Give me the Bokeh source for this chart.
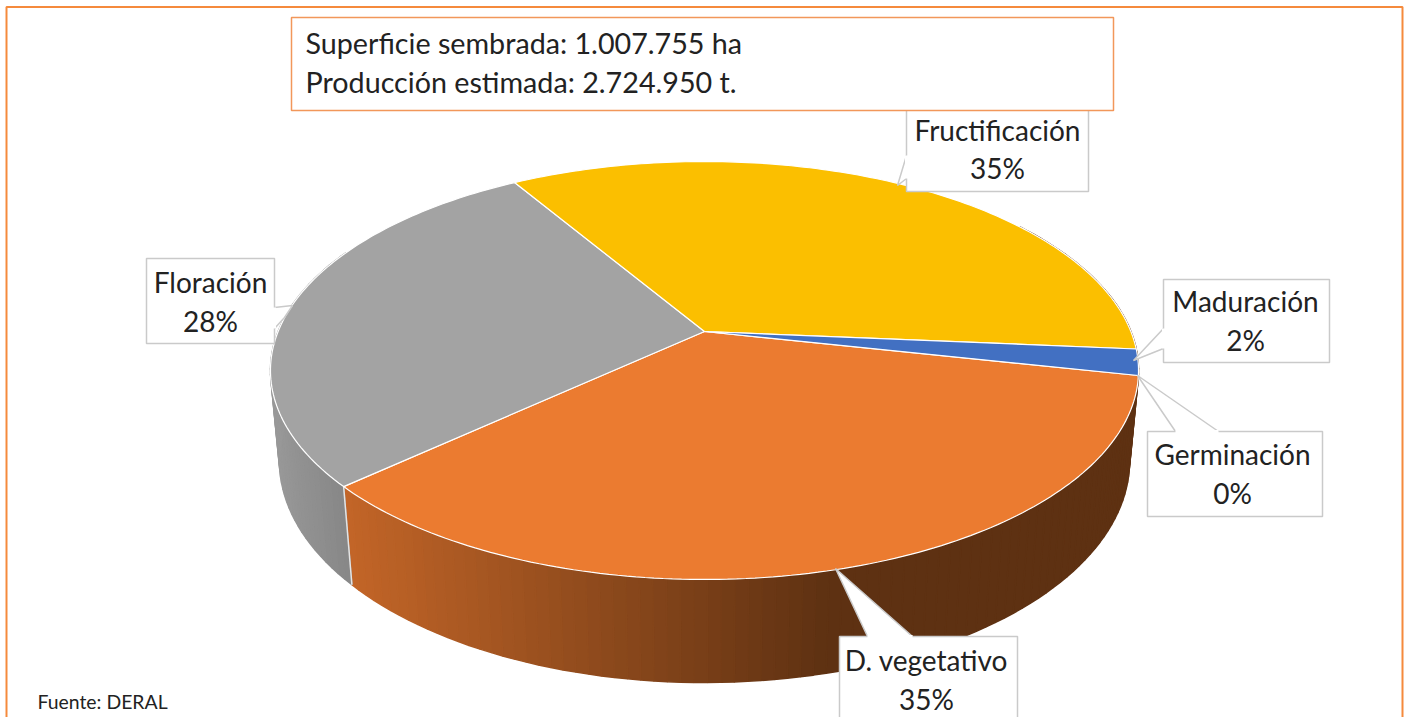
import math
from bokeh.plotting import figure
from bokeh.models import Range1d
from bokeh.core.properties import value
from bokeh.embed import file_html
from bokeh.resources import INLINE

# Data
stages = ["Germinación", "D. vegetativo", "Floración", "Fructificación", "Maduración"]
shares = [0.0, 34.9, 28.1, 35.0, 2.0]
colors = ["#5B9BD5", "#EB7B30", "#A3A3A3", "#FBBF00", "#4270C2"]
info_lines = ["Superficie sembrada: 1.007.755 ha", "Producción estimada: 2.724.950 t."]
source = "Fuente: DERAL"

# Pie projection (page pixels)
CX, CY = 704, 331
A, B, K, Q, H = 426.4, 201.7, 0.1866, 0.0205, 91.0
ROT = 102.1


def proj(t, r=1.0, z=0.0):
    a = math.radians(t)
    u, v = r * math.sin(a), -r * math.cos(a)
    w = 1 - K * v + Q * z
    return CX + A * u / w, CY + (B * v + H * z) / w


def lerp(c0, c1, f):
    f = max(0.0, min(1.0, f))
    return "#%02x%02x%02x" % tuple(round(a + (b - a) * f) for a, b in zip(c0, c1))


def frange(a, b, step=1.0):
    n = max(2, int(abs(b - a) / step) + 1)
    return [a + (b - a) * i / (n - 1) for i in range(n)]


p = figure(width=1406, height=717, output_backend="svg", toolbar_location=None,
           x_range=Range1d(0, 1406), y_range=Range1d(717, 0),
           min_border=0, outline_line_color=None, background_fill_color="white")
p.axis.visible = False
p.grid.visible = False

# Slice angles
bounds = [ROT]
for s in shares:
    bounds.append(bounds[-1] + s * 3.6)
veg_b = bounds[2]

# Side wall
xs, ys, cs = [], [], []
for lo, hi in ((55, veg_b), (veg_b, 295)):
    ts = frange(lo, hi, 1.5)
    for t0, t1 in zip(ts[:-1], ts[1:]):
        xm = proj((t0 + t1) / 2, z=1)[0]
        if hi == veg_b:
            col = lerp((196, 102, 40), (94, 49, 18), (xm - 345) / 480)
        else:
            col = lerp((154, 154, 154), (136, 136, 136), (xm - 272) / 75)
        pts = [proj(t0), proj(t1), proj(t1, z=1), proj(t0, z=1)]
        xs.append([q[0] for q in pts])
        ys.append([q[1] for q in pts])
        cs.append(col)
p.patches(xs, ys, fill_color=cs, line_color=cs, line_width=1.5)

# Divider on the wall
e0, e1 = proj(veg_b), proj(veg_b, z=1)
p.line([e0[0], e1[0]], [e0[1], e1[1]], line_color="#E4E4E4", line_width=1.5)

# Top face
for i, (s, c) in enumerate(zip(shares, colors)):
    if s <= 0:
        continue
    pts = [proj(t) for t in frange(bounds[i], bounds[i + 1], 1.0)]
    x = [CX] + [q[0] for q in pts]
    y = [CY] + [q[1] for q in pts]
    p.patch(x, y, fill_color=c, line_color="#FFFFFF", line_width=1.2)

# Callouts
WHITE = "white"
EDGE = "#CACACA"


def callout(l, t, r, b, poly):
    p.patch(*zip(*poly), fill_color=WHITE, line_color=EDGE, line_width=1.5)
    p.quad(left=[l], right=[r], top=[t], bottom=[b], fill_color=WHITE, line_color=EDGE, line_width=1.5)
    a, c = poly[0], poly[-1]
    p.line([a[0], c[0]], [a[1], c[1]], line_color=WHITE, line_width=3)


callout(906, 100, 1088, 191, [(906, 155), (897, 185), (906, 178)])
callout(1163, 279, 1329, 362, [(1163, 328), (1133, 360), (1163, 348)])
callout(1147, 431, 1322, 516, [(1175, 431), (1137, 375), (1218, 431)])
callout(839, 636, 1017, 740, [(867, 636), (835, 568), (912, 636)])
callout(146, 258, 274, 343, [(274, 307), (292, 305), (284, 317), (274, 328)])

# Info box
p.quad(left=[291], right=[1113], top=[17], bottom=[110], fill_color=WHITE,
       line_color="#F2975A", line_width=1.5)

# Outer frame
p.line([6, 6, 1402, 1402], [717, 6.5, 6.5, 717], line_color="#F58A3C", line_width=2)

# Labels
FONT = value("Lato")
TXT = "#222222"
label_pos = {"Germinación": (1232, 453, 492), "D. vegetativo": (926, 659, 698),
             "Floración": (210, 281, 320), "Fructificación": (997, 129, 167),
             "Maduración": (1245, 300, 339)}
for s, v in zip(stages, shares):
    cx, y1, y2 = label_pos[s]
    p.text([cx, cx], [y1, y2], text=[s, f"{round(v)}%"], text_font=FONT, text_font_size="28px",
           text_color=TXT, text_align="center", text_baseline="alphabetic")

p.text([305, 305], [42, 81], text=info_lines, text_font=FONT, text_font_size="28.7px",
       text_color=TXT, text_align="left", text_baseline="alphabetic")
p.text([37], [701], text=[source], text_font=FONT, text_font_size="19.4px",
       text_color=TXT, text_align="left", text_baseline="alphabetic")

open("out.html", "w").write(file_html(p, INLINE))
